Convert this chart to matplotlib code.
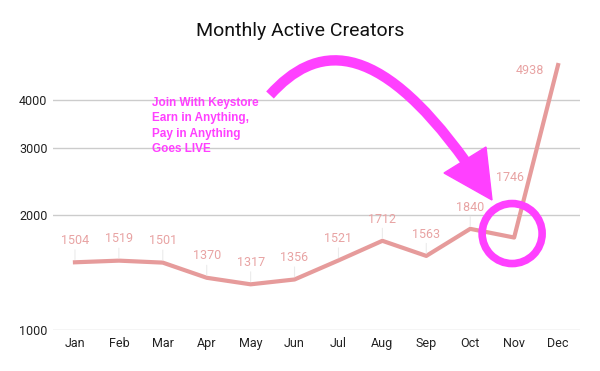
import numpy as np
import matplotlib.pyplot as plt
from matplotlib.path import Path
from matplotlib.patches import PathPatch, Polygon, Circle

months = ['Jan', 'Feb', 'Mar', 'Apr', 'May', 'Jun', 'Jul', 'Aug', 'Sep', 'Oct', 'Nov', 'Dec']
creators = [1504, 1519, 1501, 1370, 1317, 1356, 1521, 1712, 1563, 1840, 1746, 4938]
y_ticks = [1000, 2000, 3000, 4000]

LINE = '#e69b9b'
LABEL = '#e8a3a3'
MAGENTA = '#ff40ff'

W, H = 600, 371
fig = plt.figure(figsize=(6, 3.71), dpi=100)
ax = fig.add_axes([53 / W, 1 - 330 / H, 527 / W, 267 / H])

x = np.arange(len(months))
ax.plot(x, creators, color=LINE, lw=3, solid_joinstyle='round', zorder=3, clip_on=False)

ax.set_yscale('log')
ax.set_ylim(1000, 5000)
ax.set_xlim(-0.5, len(months) - 0.5)
ax.set_yticks(y_ticks)
ax.set_yticklabels([str(t) for t in y_ticks])
ax.yaxis.set_minor_locator(plt.NullLocator())
ax.set_xticks(x)
ax.set_xticklabels(months)
ax.tick_params(length=0, labelsize=9, labelcolor='#222222')
ax.tick_params(axis='x', pad=5)
ax.tick_params(axis='y', pad=4)
for lab in ax.get_xticklabels() + ax.get_yticklabels():
    lab.set_fontfamily('Roboto')
ax.grid(axis='y', color='#cccccc', lw=1)
ax.set_axisbelow(True)
for s in ax.spines.values():
    s.set_visible(False)

# data labels (Nov and Dec are shifted in the original)
for i, v in enumerate(creators):
    if i == 10:
        off, ha, va = (-3, 43), 'center', 'center'
    elif i == 11:
        off, ha, va = (-10, -4), 'right', 'center'
    else:
        off, ha, va = (0, 11), 'center', 'bottom'
    lead = dict(arrowstyle='-', color='#ebebeb', lw=0.8, shrinkA=0, shrinkB=2) if i < 10 else None
    ax.annotate(str(v), (i, v), xytext=off, textcoords='offset points',
                ha=ha, va=va, fontsize=9, color=LABEL, family='Roboto',
                arrowprops=lead, zorder=4)

fig.suptitle('Monthly Active Creators', x=0.5, y=1 - 31 / H, va='center',
             fontsize=14, family='Roboto', color='#111111')

fig.text(152 / W, 1 - 97 / H, 'Join With Keystore\nEarn in Anything,\nPay in Anything\nGoes LIVE',
         ha='left', va='top', fontsize=8.5, fontweight='bold', color=MAGENTA,
         family='Liberation Sans', linespacing=1.38)


# call-out arrow and circle, drawn in pixel space
def px(a, b):
    return (a / W, 1 - b / H)


verts = [px(270, 95), px(315, 45), px(375, 35), px(466, 162)]
arc = Path(verts, [Path.MOVETO, Path.CURVE4, Path.CURVE4, Path.CURVE4])
fig.add_artist(PathPatch(arc, transform=fig.transFigure, fc='none', ec=MAGENTA, lw=7.5))
fig.add_artist(Polygon([px(444, 173), px(486, 147), px(492, 200)], closed=True,
                       transform=fig.transFigure, fc=MAGENTA, ec=MAGENTA))

fig.canvas.draw()
cx, cy = ax.transData.transform((10, creators[10]))
circ = Circle((cx - 2, cy + 4), 30, transform=None, fc='none', ec=MAGENTA, lw=5.5, zorder=5)
fig.add_artist(circ)

fig.savefig('out.png', dpi=100)
